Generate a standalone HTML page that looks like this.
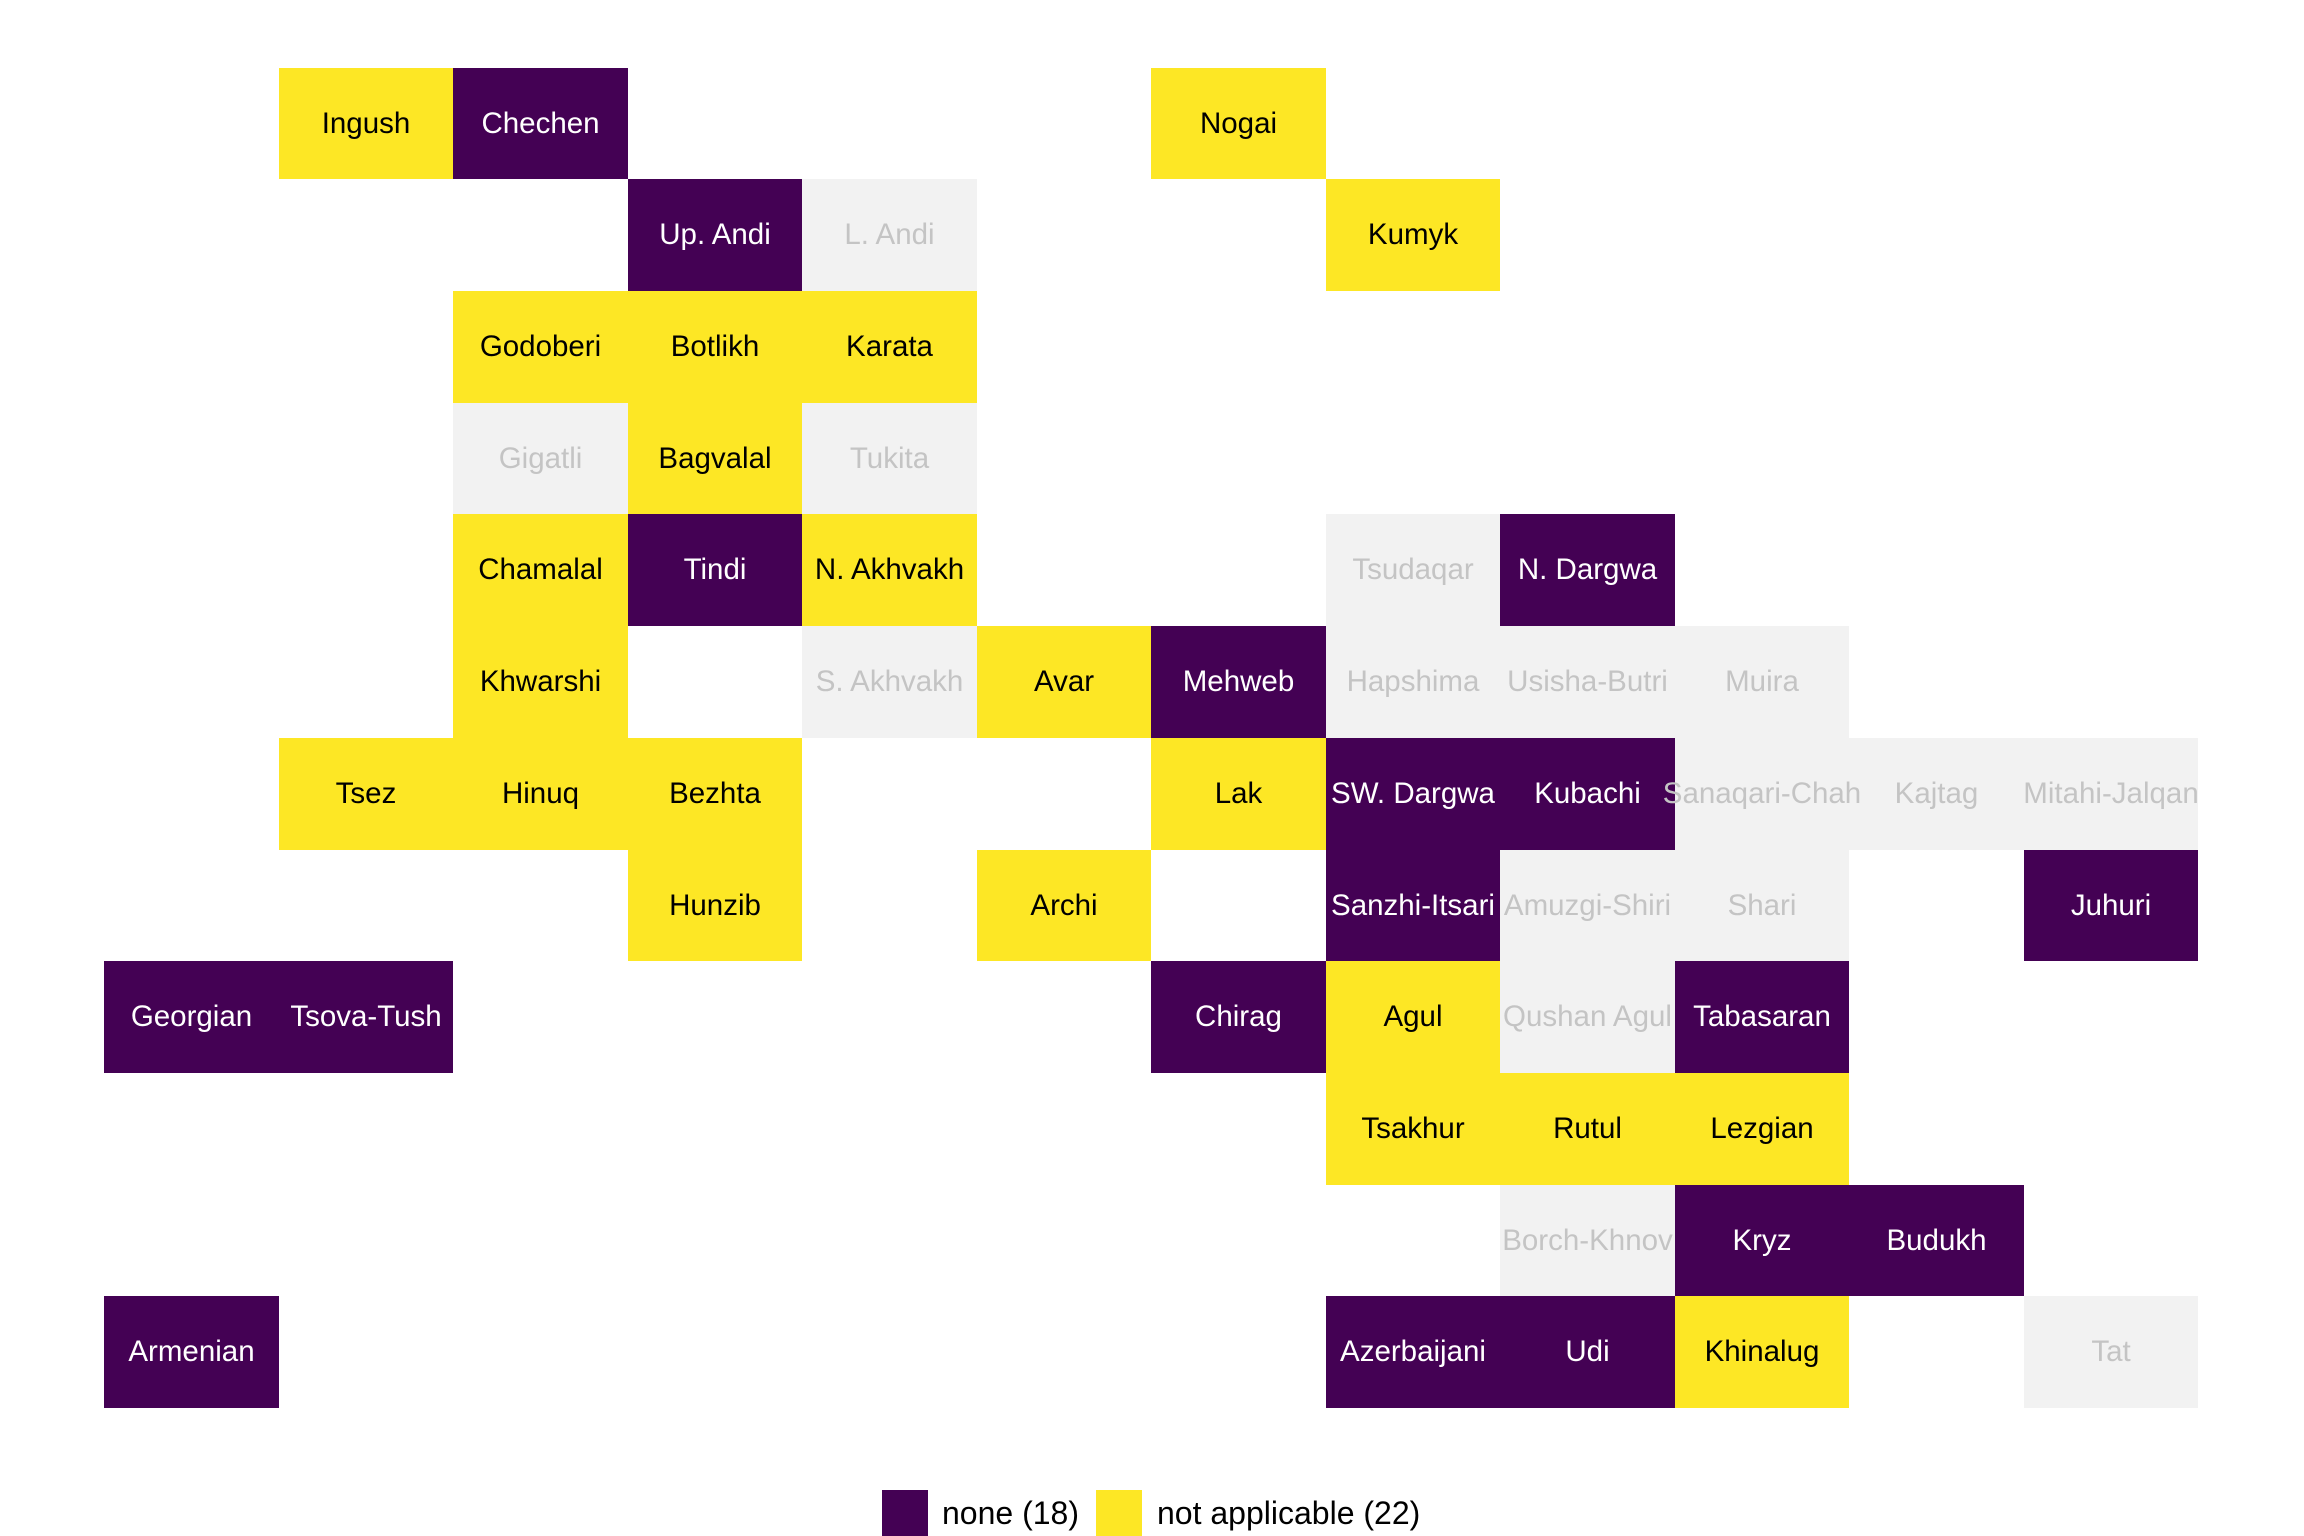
<!DOCTYPE html>
<html><head><meta charset="utf-8"><style>
body{margin:0;width:2304px;height:1536px;background:#fff;position:relative;overflow:hidden;font-family:"Liberation Sans",sans-serif}
.t{position:absolute}
.l{position:absolute;display:flex;align-items:center;justify-content:center;white-space:nowrap;font-size:29.5px;overflow:visible}
.P{background:#440154}.Y{background:#FDE725}.G{background:#F2F2F2}
.lP{color:#fff}.lY{color:#000}.lG{color:#c4c4c4}
.sq{position:absolute;width:46px;height:46px;top:1490px}
.lt{position:absolute;top:1495px;font-size:32px;color:#000}
</style></head><body>
<div id="tiles"></div><div id="labels"></div>
<div class="sq P" style="left:882px"></div><div class="lt" style="left:942px">none (18)</div>
<div class="sq Y" style="left:1096px"></div><div class="lt" style="left:1157px">not applicable (22)</div>
<script>
var d=[
[0,[["Ingush","Y",1],["Chechen","P",2],["Nogai","Y",6]]],
[1,[["Up. Andi","P",3],["L. Andi","G",4],["Kumyk","Y",7]]],
[2,[["Godoberi","Y",2],["Botlikh","Y",3],["Karata","Y",4]]],
[3,[["Gigatli","G",2],["Bagvalal","Y",3],["Tukita","G",4]]],
[4,[["Chamalal","Y",2],["Tindi","P",3],["N. Akhvakh","Y",4],["Tsudaqar","G",7],["N. Dargwa","P",8]]],
[5,[["Khwarshi","Y",2],["S. Akhvakh","G",4],["Avar","Y",5],["Mehweb","P",6],["Hapshima","G",7],["Usisha-Butri","G",8],["Muira","G",9]]],
[6,[["Tsez","Y",1],["Hinuq","Y",2],["Bezhta","Y",3],["Lak","Y",6],["SW. Dargwa","P",7],["Kubachi","P",8],["Sanaqari-Chah","G",9],["Kajtag","G",10],["Mitahi-Jalqan","G",11]]],
[7,[["Hunzib","Y",3],["Archi","Y",5],["Sanzhi-Itsari","P",7],["Amuzgi-Shiri","G",8],["Shari","G",9],["Juhuri","P",11]]],
[8,[["Georgian","P",0],["Tsova-Tush","P",1],["Chirag","P",6],["Agul","Y",7],["Qushan Agul","G",8],["Tabasaran","P",9]]],
[9,[["Tsakhur","Y",7],["Rutul","Y",8],["Lezgian","Y",9]]],
[10,[["Borch-Khnov","G",8],["Kryz","P",9],["Budukh","P",10]]],
[11,[["Armenian","P",0],["Azerbaijani","P",7],["Udi","P",8],["Khinalug","Y",9],["Tat","G",11]]]];
var T="",L="";
d.forEach(function(r){r[1].forEach(function(c){
var x0=Math.round(104.3+c[2]*174.5),x1=Math.round(104.3+(c[2]+1)*174.5),y0=Math.round(67.6+r[0]*111.7),y1=Math.round(67.6+(r[0]+1)*111.7);
var s='left:'+x0+'px;top:'+y0+'px;width:'+(x1-x0)+'px;height:'+(y1-y0)+'px';
T+='<div class="t '+c[1]+'" style="'+s+'"></div>';
L+='<div class="l l'+c[1]+'" style="'+s+'">'+c[0]+'</div>';});});
document.getElementById("tiles").innerHTML=T;document.getElementById("labels").innerHTML=L;
</script>
</body></html>
